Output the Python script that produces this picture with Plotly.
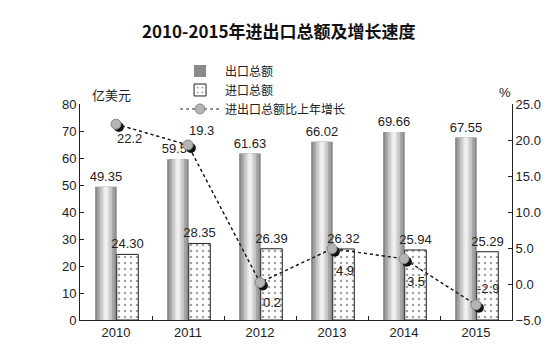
import plotly.graph_objects as go

years = ["2010", "2011", "2012", "2013", "2014", "2015"]
exports = [49.35, 59.54, 61.63, 66.02, 69.66, 67.55]
imports = [24.30, 28.35, 26.39, 26.32, 25.94, 25.29]
growth = [22.2, 19.3, 0.2, 4.9, 3.5, -2.9]

# label offsets (pixels) for growth labels, style only
label_dx = [13, 13, 12, 13, 12, 12]
label_dy = [-14, 15, -20, -22, -23, 16]

FONT = "Liberation Sans, Arial, sans-serif"
CJK = "Noto Sans CJK SC, sans-serif"

fig = go.Figure()

# export bars: layered to mimic cylinder shading
layers = [(0.30, -0.29, "#8a8a8a"), (0.24, -0.26, "#a6a6a6"), (0.17, -0.225, "#c4c4c4"),
          (0.10, -0.19, "#dedede"), (0.04, -0.16, "#f2f2f2")]
for i, (w, off, col) in enumerate(layers):
    fig.add_trace(go.Bar(
        x=years, y=exports, width=w, offset=off,
        marker=dict(color=col, line=dict(width=0)),
        name="出口总额", showlegend=(i == 0),
        text=[f"{v:.2f}" for v in exports] if i == 0 else None,
        textposition="outside" if i == 0 else "none",
        constraintext="none", cliponaxis=False,
        textfont=dict(family=FONT, size=13, color="#222"),
        hoverinfo="skip"))

fig.add_trace(go.Bar(
    x=years, y=imports, width=0.30, offset=0.01, name="进口总额",
    marker=dict(color="white", line=dict(color="#222", width=1),
                pattern=dict(shape=".", fgcolor="#444", bgcolor="white", size=6, solidity=0.15)),
    text=[f"{v:.2f}" for v in imports], textposition="outside",
    constraintext="none", cliponaxis=False,
    textfont=dict(family=FONT, size=13, color="#222")))

# dotted line
fig.add_trace(go.Scatter(
    x=years, y=growth, yaxis="y2", mode="lines", name="进出口总额比上年增长",
    line=dict(color="#222", width=1.2, dash="dot"), showlegend=False, hoverinfo="skip"))

# shadow of markers
fig.add_trace(go.Scatter(x=years, y=growth, xaxis="x3", yaxis="y3", mode="markers",
                         marker=dict(size=10, color="#111"), showlegend=False, hoverinfo="skip"))

# markers (legend entry)
fig.add_trace(go.Scatter(
    x=years, y=growth, xaxis="x4", yaxis="y4", mode="lines+markers", name="进出口总额比上年增长",
    line=dict(color="#222", width=1.2, dash="dot"),
    marker=dict(size=10, color="#b4b4b4", line=dict(color="#888", width=1))))

annotations = [
    dict(text="<b>2010-2015年进出口总额及增长速度</b>", xref="paper", yref="paper",
         x=(271 - 72) / 432, y=(312 - 22) / 216, xanchor="center", yanchor="middle",
         showarrow=False, font=dict(family=CJK, size=17, color="#111")),
    dict(text="亿美元", xref="paper", yref="paper", x=(103 - 72) / 432, y=(312 - 86) / 216,
         xanchor="center", yanchor="middle", showarrow=False,
         font=dict(family=CJK, size=13, color="#222")),
    dict(text="%", xref="paper", yref="paper", x=(497 - 72) / 432, y=(312 - 84) / 216,
         xanchor="center", yanchor="middle", showarrow=False,
         font=dict(family=FONT, size=13, color="#222")),
]
for idx, (g, dx, dy) in enumerate(zip(growth, label_dx, label_dy)):
    annotations.append(dict(text=f"{g:.1f}", x=idx, y=g, xref="x", yref="y2",
                            xshift=dx, yshift=dy, showarrow=False,
                            xanchor="center", yanchor="middle",
                            font=dict(family=FONT, size=13, color="#222")))

fig.update_layout(
    width=560, height=360, margin=dict(l=72, r=56, t=96, b=48),
    paper_bgcolor="white", plot_bgcolor="white",
    barmode="overlay", showlegend=True,
    font=dict(family=FONT, size=13, color="#222"),
    legend=dict(x=0.22, y=1.22, xanchor="left", yanchor="top", orientation="v",
                font=dict(family=CJK, size=12, color="#222"), bgcolor="rgba(0,0,0,0)",
                tracegroupgap=0, itemwidth=40),
    xaxis=dict(type="category", showline=True, linecolor="#222", linewidth=1,
               ticks="inside", tickson="boundaries", ticklen=4, tickcolor="#222",
               showgrid=False, tickfont=dict(family=FONT, size=13, color="#222"),
               range=[-0.5, 5.5]),
    yaxis=dict(range=[0, 80], dtick=10, showline=True, linecolor="#222", linewidth=1,
               ticks="inside", ticklen=4, tickcolor="#222", showgrid=False, zeroline=False,
               tickfont=dict(family=FONT, size=13, color="#222")),
    yaxis2=dict(range=[-5, 25], dtick=5, tickformat=".1f", overlaying="y", side="right",
                showline=True, linecolor="#222", linewidth=1, ticks="inside", ticklen=4,
                tickcolor="#222", showgrid=False, zeroline=False,
                tickfont=dict(family=FONT, size=13, color="#222")),
    xaxis3=dict(type="category", overlaying="x", range=[-0.5 - 0.04, 5.5 - 0.04], visible=False),
    yaxis3=dict(range=[-5 + 0.4, 25 + 0.4], overlaying="y", visible=False),
    xaxis4=dict(type="category", overlaying="x", range=[-0.5, 5.5], visible=False),
    yaxis4=dict(range=[-5, 25], overlaying="y", visible=False),
    annotations=annotations,
)

fig.write_html("out.html")
